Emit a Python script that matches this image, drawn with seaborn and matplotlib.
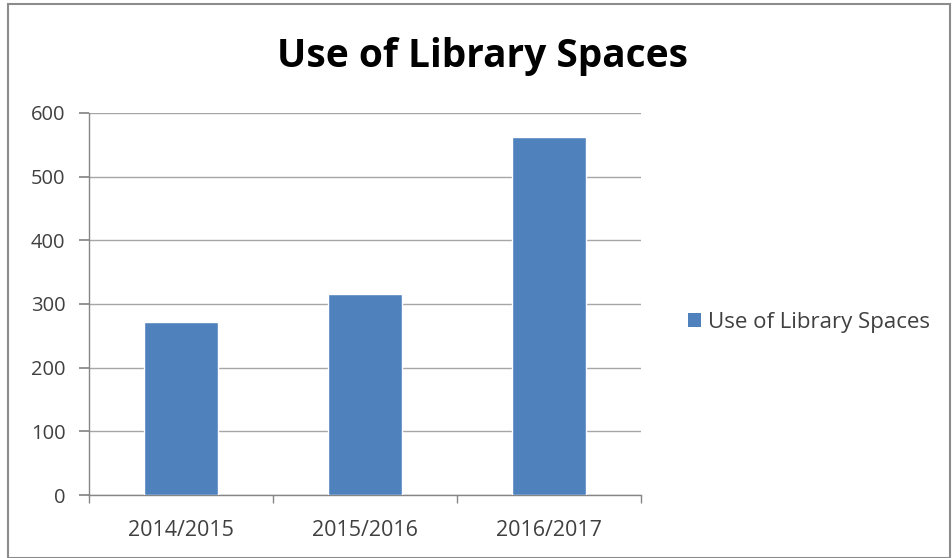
import matplotlib
matplotlib.use("Agg")
import matplotlib.pyplot as plt
import seaborn as sns
import pandas as pd
from matplotlib.patches import Rectangle, Patch

years = ["2014/2015", "2015/2016", "2016/2017"]
values = [272, 315, 562]
series_name = "Use of Library Spaces"
yticks = [0, 100, 200, 300, 400, 500, 600]

sns.set_theme(style="white")
plt.rcParams['font.family'] = ['Open Sans', 'DejaVu Sans']

df = pd.DataFrame({"Year": years, "Value": values})

fig = plt.figure(figsize=(9.52, 5.58), dpi=100)
ax = fig.add_axes([0.0935, 0.1129, 0.5798, 0.6846])

sns.barplot(data=df, x="Year", y="Value", color="#4F81BD", width=0.4,
            saturation=1, ax=ax, zorder=3)

ax.set_ylim(0, 600)
ax.set_xlim(-0.5, 2.5)
ax.set_yticks(yticks)
ax.set_yticklabels([str(t) for t in yticks], fontsize=14.5, color="#404040")
ax.set_xticks(range(len(years)))
ax.set_xticklabels(years, fontsize=15.5, color="#404040")
ax.set_xlabel("")
ax.set_ylabel("")
ax.yaxis.grid(True, color="#A6A6A6", linewidth=1, zorder=0)
ax.set_axisbelow(True)

for s in ["top", "right"]:
    ax.spines[s].set_visible(False)
for s in ["left", "bottom"]:
    ax.spines[s].set_color("#868686")
    ax.spines[s].set_linewidth(1)

ax.tick_params(axis="y", which="major", left=True, length=7, color="#868686", pad=10)
ax.tick_params(axis="x", which="major", bottom=False, pad=12)
ax.set_xticks([-0.5, 0.5, 1.5, 2.5], minor=True)
ax.tick_params(axis="x", which="minor", bottom=True, length=6, color="#868686")

fig.text(0.507, 0.898, series_name, ha="center", va="center",
         fontsize=28, fontweight="bold", color="black")

handle = Patch(facecolor="#4F81BD", edgecolor="none")
fig.legend([handle], [series_name], loc="center left",
           bbox_to_anchor=(0.702, 0.422), frameon=False, fontsize=16,
           handlelength=0.55, handleheight=0.55, handletextpad=0.35,
           labelcolor="#404040")

fig.patches.append(Rectangle((0.008, 0.0), 0.99, 0.992, transform=fig.transFigure,
                             fill=False, edgecolor="#8C8C8C", linewidth=1.5))

fig.savefig("out.png", dpi=100)
